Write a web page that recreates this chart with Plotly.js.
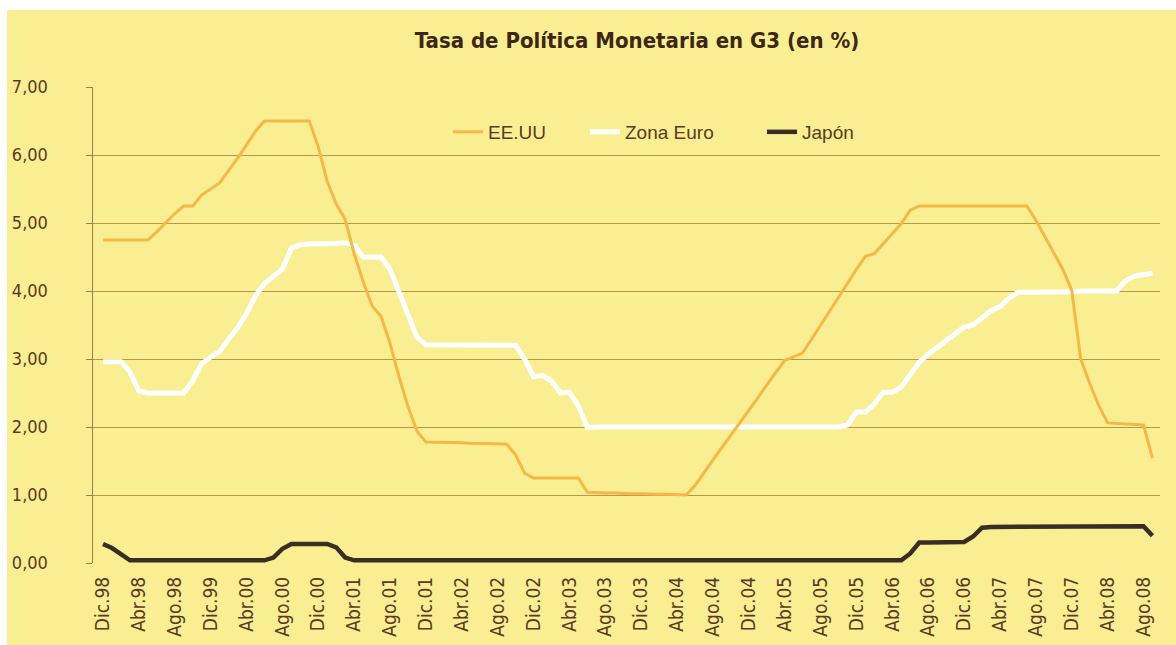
<!DOCTYPE html>
<html>
<head>
<meta charset="utf-8">
<script src="https://cdn.plot.ly/plotly-3.0.1.min.js"></script>
<style>
  html, body { margin: 0; padding: 0; background: #ffffff; width: 1176px; height: 645px; overflow: hidden; }
  #chart { position: absolute; left: 7px; top: 10px; width: 1169px; height: 635px; }
</style>
</head>
<body>
<div id="chart"></div>
<script>
// Monthly policy rates (%), Dic.98 onward
const eeuu = [
  4.75,4.75,4.75,4.75,4.75,4.75,4.87,5.01,5.14,5.25,
  5.25,5.41,5.50,5.59,5.77,5.95,6.15,6.35,6.50,6.50,
  6.50,6.50,6.50,6.50,6.12,5.61,5.28,5.05,4.55,4.14,
  3.78,3.63,3.23,2.74,2.30,1.94,1.78,1.78,1.77,1.77,
  1.77,1.76,1.76,1.76,1.75,1.75,1.59,1.32,1.25,1.25,
  1.25,1.25,1.25,1.25,1.04,1.03,1.03,1.03,1.02,1.02,
  1.02,1.01,1.01,1.01,1.00,1.00,1.14,1.33,1.51,1.70,
  1.88,2.06,2.25,2.43,2.62,2.80,2.98,3.03,3.09,3.29,
  3.50,3.70,3.91,4.11,4.32,4.51,4.55,4.70,4.84,4.99,
  5.19,5.25,5.25,5.25,5.25,5.25,5.25,5.25,5.25,5.25,
  5.25,5.25,5.25,5.25,5.04,4.80,4.56,4.32,4.01,3.00,
  2.64,2.32,2.06,2.05,2.05,2.04,2.03,1.54
];
const zonaEuro = [
  2.96,2.96,2.96,2.81,2.53,2.50,2.50,2.50,2.50,2.50,
  2.68,2.93,3.03,3.11,3.29,3.46,3.67,3.93,4.11,4.22,
  4.32,4.63,4.68,4.69,4.69,4.70,4.70,4.71,4.67,4.50,
  4.50,4.50,4.32,3.98,3.65,3.32,3.21,3.21,3.21,3.21,
  3.21,3.20,3.20,3.20,3.20,3.20,3.20,3.00,2.74,2.76,
  2.68,2.50,2.51,2.31,1.99,2.00,2.00,2.00,2.00,2.00,
  2.00,2.00,2.00,2.00,2.00,2.00,2.00,2.00,2.00,2.00,
  2.00,2.00,2.00,2.00,2.00,2.00,2.00,2.00,2.00,2.00,
  2.00,2.00,2.00,2.03,2.22,2.22,2.34,2.51,2.51,2.59,
  2.76,2.95,3.07,3.17,3.25,3.37,3.47,3.50,3.61,3.71,
  3.77,3.89,3.98,3.98,3.98,3.99,3.99,3.99,3.99,4.00,
  4.00,4.00,4.00,4.00,4.15,4.22,4.24,4.26
];
const japon = [
  0.28,0.22,0.13,0.04,0.04,0.04,0.04,0.04,0.04,0.04,
  0.04,0.04,0.04,0.04,0.04,0.04,0.04,0.04,0.04,0.08,
  0.21,0.28,0.28,0.28,0.28,0.28,0.23,0.08,0.04,0.04,
  0.04,0.04,0.04,0.04,0.04,0.04,0.04,0.04,0.04,0.04,
  0.04,0.04,0.04,0.04,0.04,0.04,0.04,0.04,0.04,0.04,
  0.04,0.04,0.04,0.04,0.04,0.04,0.04,0.04,0.04,0.04,
  0.04,0.04,0.04,0.04,0.04,0.04,0.04,0.04,0.04,0.04,
  0.04,0.04,0.04,0.04,0.04,0.04,0.04,0.04,0.04,0.04,
  0.04,0.04,0.04,0.04,0.04,0.04,0.04,0.04,0.04,0.04,
  0.14,0.30,0.30,0.30,0.31,0.31,0.31,0.39,0.52,0.53,
  0.53,0.53,0.53,0.53,0.53,0.54,0.54,0.54,0.54,0.54,
  0.54,0.54,0.54,0.54,0.54,0.54,0.54,0.40
];
// Tick labels every 4 months (as printed in the original)
const tickLabels = [
  "Dic.98","Abr.98","Ago.98","Dic.99","Abr.00","Ago.00","Dic.00","Abr.01",
  "Ago.01","Dic.01","Abr.02","Ago.02","Dic.02","Abr.03","Ago.03","Dic.03",
  "Abr.04","Ago.04","Dic.04","Abr.05","Ago.05","Dic.05","Abr.06","Ago.06",
  "Dic.06","Abr.07","Ago.07","Dic.07","Abr.08","Ago.08"
];
const seriesNames = ["EE.UU", "Zona Euro", "Japón"];

const months = eeuu.map((_, i) => i);
const tickVals = tickLabels.map((_, k) => 4 * k);

const narrow = '"DejaVu Sans Condensed", "Liberation Sans Narrow", sans-serif';
const brown = '#5b3a24';

const traces = [
  { x: months, y: zonaEuro, name: seriesNames[1], type: 'scatter', mode: 'lines',
    line: { color: '#ffffff', width: 5 }, legend: 'legend2' },
  { x: months, y: eeuu, name: seriesNames[0], type: 'scatter', mode: 'lines',
    line: { color: '#f5b746', width: 3 }, legend: 'legend' },
  { x: months, y: japon, name: seriesNames[2], type: 'scatter', mode: 'lines',
    line: { color: '#3a2e24', width: 4.5 }, legend: 'legend3' }
];

const legendCommon = {
  orientation: 'h', xanchor: 'left', yanchor: 'middle', y: 0.9055,
  bgcolor: 'rgba(0,0,0,0)', borderwidth: 0,
  font: { family: '"Liberation Sans", Arial, sans-serif', size: 19, color: brown }
};

const layout = {
  width: 1169, height: 635,
  paper_bgcolor: '#f9ef92', plot_bgcolor: '#f9ef92',
  margin: { l: 86, r: 16, t: 77, b: 82, pad: 0 },
  separators: ',.',
  title: {
    text: 'Tasa de Política Monetaria en G3 (en %)',
    font: { family: narrow, size: 22, color: '#3d2616', weight: 'bold' },
    x: 0.539, xref: 'container', xanchor: 'center',
    y: 0.953, yref: 'container', yanchor: 'middle'
  },
  xaxis: {
    range: [-1.115, 117.84],
    tickmode: 'array', tickvals: tickVals, ticktext: tickLabels,
    tickangle: -90, showgrid: false, zeroline: false, showline: false,
    ticks: '', ticklabelstandoff: 9,
    tickfont: { family: narrow, size: 19, color: brown }
  },
  yaxis: {
    range: [0, 7], tickvals: [0,1,2,3,4,5,6,7], tickformat: '.2f',
    showgrid: true, gridcolor: '#b59a4c', gridwidth: 1,
    zeroline: false, showline: true, linecolor: '#a8784e', linewidth: 1.5,
    ticks: 'outside', ticklen: 6, tickcolor: '#a8784e', ticklabelstandoff: 34,
    tickfont: { family: narrow, size: 18, color: brown }
  },
  legend: Object.assign({}, legendCommon, { x: 0.3327 }),
  legend2: Object.assign({}, legendCommon, { x: 0.4611 }),
  legend3: Object.assign({}, legendCommon, { x: 0.6270 }),
  showlegend: true
};

Plotly.newPlot('chart', traces, layout, { displayModeBar: false, staticPlot: true });
</script>
</body>
</html>
